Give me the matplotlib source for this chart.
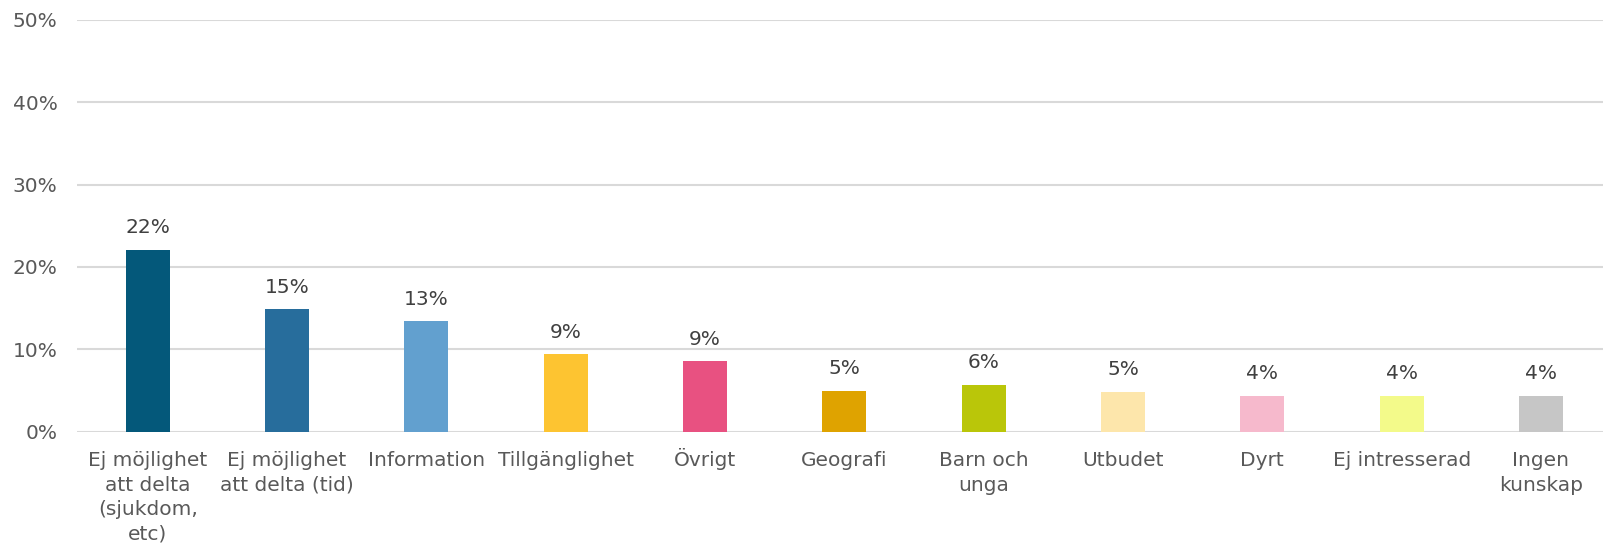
import matplotlib.pyplot as plt
from matplotlib.transforms import ScaledTranslation

categories = ['Ej möjlighet\natt delta\n(sjukdom,\netc)', 'Ej möjlighet\natt delta (tid)', 'Information',
              'Tillgänglighet', 'Övrigt', 'Geografi', 'Barn och\nunga', 'Utbudet', 'Dyrt',
              'Ej intresserad', 'Ingen\nkunskap']
values = [0.221, 0.149, 0.134, 0.094, 0.086, 0.050, 0.057, 0.049, 0.044, 0.044, 0.044]
colors = ['#04587A', '#276D9C', '#62A0CF', '#FDC431', '#E85181', '#DFA300',
          '#BAC609', '#FDE6AB', '#F6B9CC', '#F3FA8A', '#C6C6C6']

plt.rcParams['font.family'] = ['DejaVu Sans']

fig = plt.figure(figsize=(16.03, 5.48), dpi=100)
ax = fig.add_axes([0.048, 0.2117, 0.952, 0.7527])

x = range(len(categories))
ax.bar(x, values, width=0.316, color=colors, zorder=3)
for i, v in enumerate(values):
    ax.annotate(f'{v:.0%}', (i, v), xytext=(0, 9), textcoords='offset points',
                ha='center', va='bottom', fontsize=14.5, color='#404040')

ax.set_xlim(-0.508, 10.445)
ax.set_ylim(0, 0.5)
ax.set_yticks([0, 0.1, 0.2, 0.3, 0.4, 0.5])
ax.set_yticklabels(['0%', '10%', '20%', '30%', '40%', '50%'])
ax.set_xticks(list(x))
ax.set_xticklabels(categories, linespacing=1.36)
ax.grid(axis='y', color='#D9D9D9', linewidth=1.5, zorder=0)
for s in ax.spines.values():
    s.set_visible(False)
ax.tick_params(axis='y', length=0, pad=14, labelsize=14.5, labelcolor='#595959')
ax.tick_params(axis='x', length=0, pad=14, labelsize=14.5, labelcolor='#595959')

# keep the umlaut label on the same baseline as the others
for lab in ax.get_xticklabels():
    if lab.get_text().startswith('Ö'):
        lab.set_transform(lab.get_transform() + ScaledTranslation(0, 2.8 / 72, fig.dpi_scale_trans))

fig.savefig('out.png', dpi=100)
